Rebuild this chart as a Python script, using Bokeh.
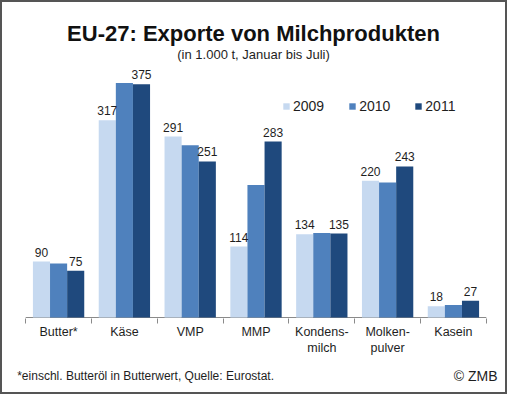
from bokeh.plotting import figure
from bokeh.layouts import column
from bokeh.models import (ColumnDataSource, FactorRange, Range1d, CategoricalAxis,
                          Legend, LegendItem, Label)
from bokeh.transform import dodge
from bokeh.embed import file_html
from bokeh.resources import INLINE
from bokeh.core.properties import value

# ---------------- data ----------------
categories = ["Butter*", "Käse", "VMP", "MMP", "Kondens-\nmilch", "Molken-\npulver", "Kasein"]
years = ["2009", "2010", "2011"]
v2009 = [90, 317, 291, 114, 134, 220, 18]
v2010 = [87, 377, 277, 213, 136, 217, 20]
v2011 = [75, 375, 251, 283, 135, 243, 27]
colors = ["#C6D9F0", "#4F81BD", "#1F497D"]

title_text = "EU-27: Exporte von Milchprodukten"
subtitle_text = "(in 1.000 t, Januar bis Juli)"
footnote_text = "*einschl. Butteröl in Butterwert, Quelle: Eurostat."
credit_text = "© ZMB"

FONT = "Liberation Sans"
TXT = "#1e1e1e"
AXIS = "#8a8a8a"
BORDER = "2px solid #555555"
W = 507
PAD = 0.3523          # padding per side, in category widths

src = ColumnDataSource(dict(
    cat=categories,
    y2009=v2009, y2010=v2010, y2011=v2011,
    l2009=[str(v) for v in v2009],
    l2011=[str(v) for v in v2011],
))

# ---------------- main chart ----------------
p = figure(width=W, height=366,
           x_range=FactorRange(factors=categories, range_padding=PAD,
                               range_padding_units="absolute"),
           y_range=Range1d(-1.6, 506.5),
           output_backend="svg", toolbar_location=None,
           x_axis_location=None, y_axis_location=None,
           min_border_left=0, min_border_right=0, min_border_top=0, min_border_bottom=50,
           outline_line_color=None, background_fill_color="white", border_fill_color="white")
p.grid.grid_line_color = None
p.styles = {"border-top": BORDER, "border-left": BORDER, "border-right": BORDER}

# ticks at category boundaries: a factor range whose factor centres fall on the boundaries
boundaries = ["b%d" % i for i in range(len(categories) + 1)]
p.extra_x_ranges = {"bounds": FactorRange(factors=boundaries, range_padding=PAD - 0.5,
                                          range_padding_units="absolute")}
tick_axis = CategoricalAxis(x_range_name="bounds",
                            axis_line_color=None,
                            major_tick_line_color=AXIS, major_tick_in=0, major_tick_out=5,
                            major_label_text_font_size="0px", major_label_text_color=None,
                            major_label_standoff=0)
p.add_layout(tick_axis, "below")

cat_axis = CategoricalAxis(axis_line_color=None, major_tick_line_color=None,
                           major_tick_in=0, major_tick_out=0,
                           major_label_text_font=FONT, major_label_text_font_size="12.5px",
                           major_label_text_color=TXT, major_label_standoff=1)
p.add_layout(cat_axis, "below")

# base line of the value axis, from the first to the last category boundary
base_src = ColumnDataSource(dict(first=[categories[0]], last=[categories[-1]], y=[0]))
p.segment(x0=dodge("first", -0.5, range=p.x_range), x1=dodge("last", 0.5, range=p.x_range),
          y0="y", y1="y", source=base_src, line_color=AXIS, line_width=1)

offsets = [-0.26, 0.0, 0.26]
renderers = []
for yr, col, off in zip(years, colors, offsets):
    r = p.vbar(x=dodge("cat", off, range=p.x_range), top="y" + yr, width=0.26, source=src,
               fill_color=col, line_color=None)
    renderers.append(r)

for yr, off in (("2009", offsets[0]), ("2011", offsets[2])):
    p.text(x=dodge("cat", off, range=p.x_range), y="y" + yr, text="l" + yr, source=src,
           text_align="center", text_baseline="bottom", y_offset=-5,
           text_font=value(FONT), text_font_size="12px", text_color=TXT)

legend = Legend(items=[LegendItem(label=yr, renderers=[r]) for yr, r in zip(years, renderers)],
                orientation="horizontal", location=(280, 204),
                glyph_width=8, glyph_height=8, label_standoff=3, spacing=24,
                padding=0, margin=0, border_line_color=None, background_fill_alpha=0,
                label_text_font=FONT, label_text_font_size="14px", label_text_color=TXT)
p.add_layout(legend)

p.add_layout(Label(x=251, y=285.5, x_units="screen", y_units="screen", text=title_text,
                   text_align="center", text_baseline="alphabetic",
                   text_font=FONT, text_font_size="22px", text_font_style="bold",
                   text_color="#111111"))
p.add_layout(Label(x=251, y=264, x_units="screen", y_units="screen", text=subtitle_text,
                   text_align="center", text_baseline="alphabetic",
                   text_font=FONT, text_font_size="13px", text_color=TXT))

# ---------------- footer ----------------
foot = figure(width=W, height=28, x_range=Range1d(0, 1), y_range=Range1d(0, 1),
              output_backend="svg", toolbar_location=None,
              x_axis_location=None, y_axis_location=None, min_border=0,
              outline_line_color=None, background_fill_color="white", border_fill_color="white")
foot.grid.grid_line_color = None
foot.styles = {"border-bottom": BORDER, "border-left": BORDER, "border-right": BORDER}
foot.add_layout(Label(x=14.7, y=18.5, x_units="screen", y_units="screen", text=footnote_text,
                      text_align="left", text_baseline="alphabetic",
                      text_font=FONT, text_font_size="12px", text_color=TXT))
foot.add_layout(Label(x=495, y=18.5, x_units="screen", y_units="screen", text=credit_text,
                      text_align="right", text_baseline="alphabetic",
                      text_font=FONT, text_font_size="14px", text_color=TXT))

layout = column(p, foot, spacing=0)
open("out.html", "w").write(file_html(layout, INLINE))
